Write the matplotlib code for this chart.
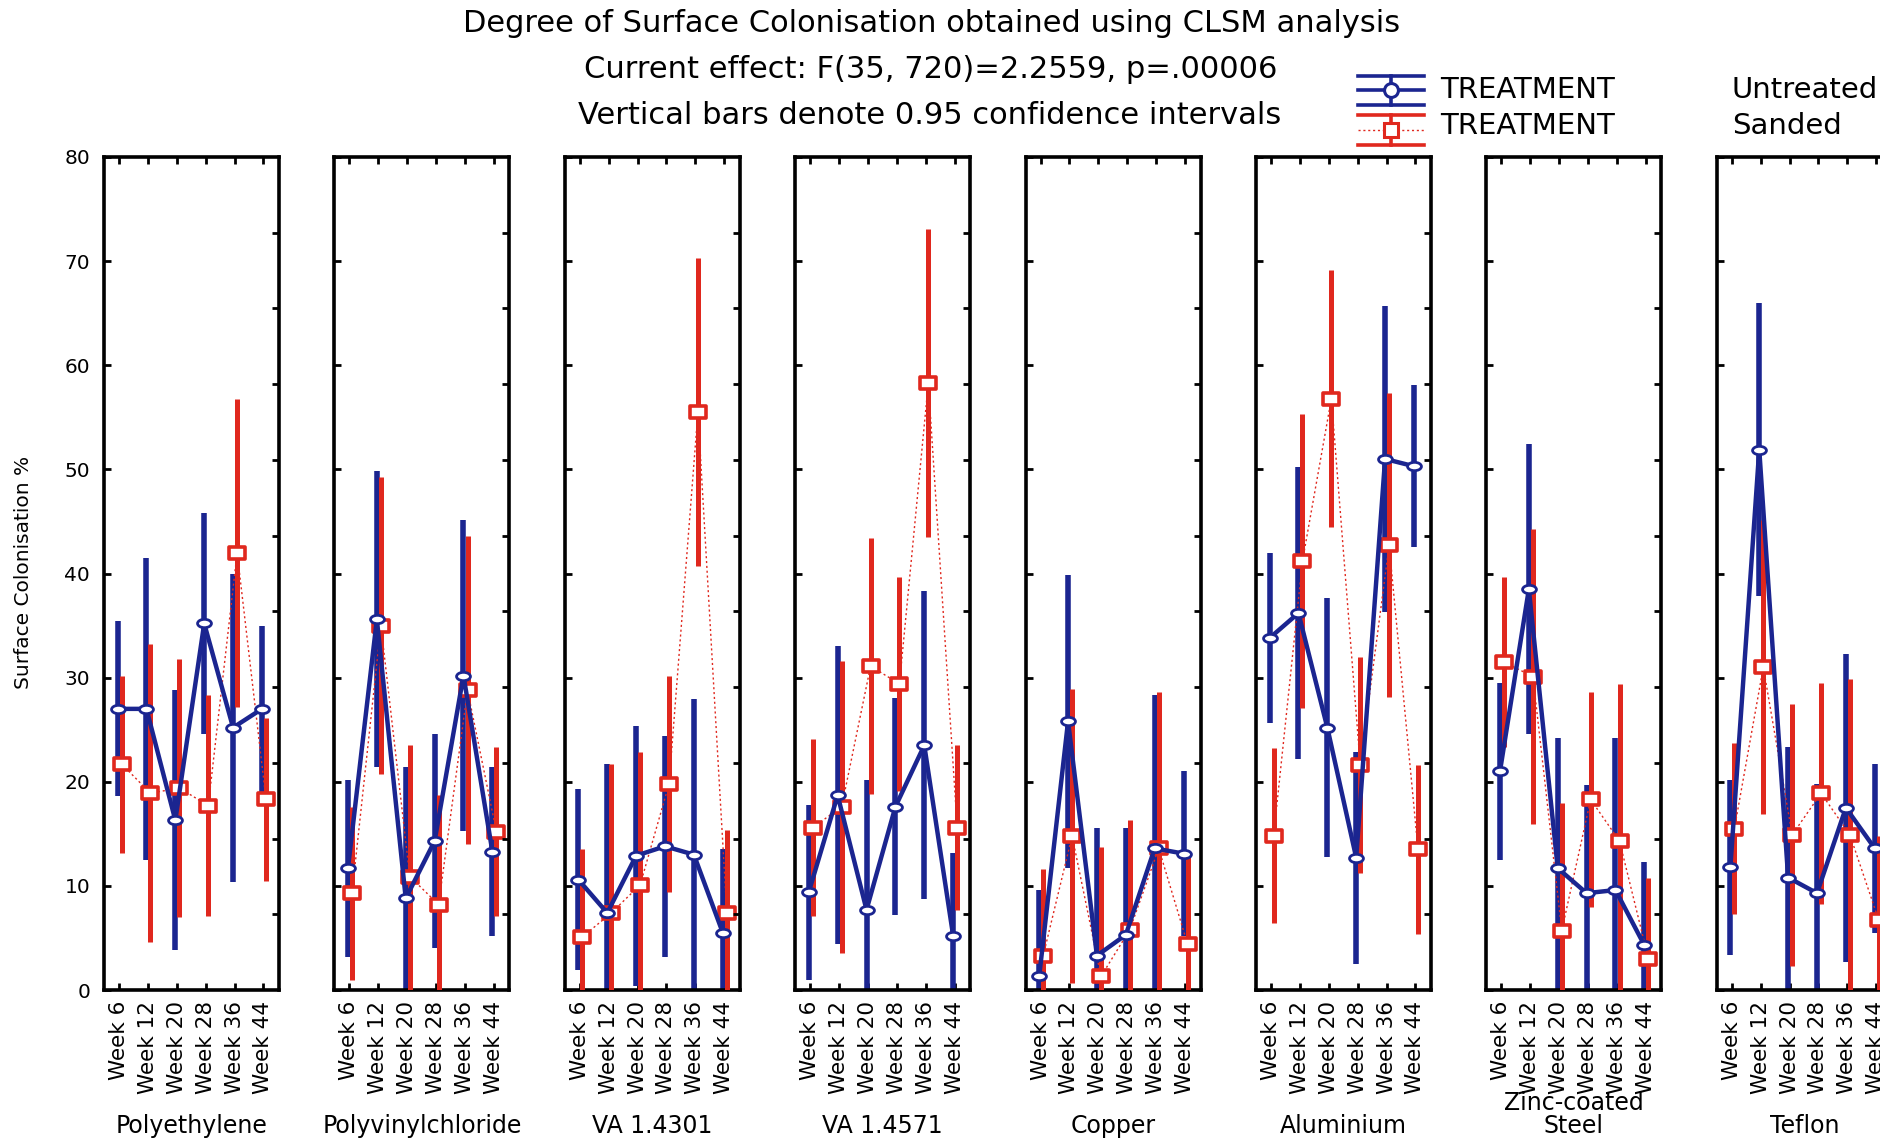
import numpy as np
import matplotlib
matplotlib.use("Agg")
import matplotlib.pyplot as plt
from matplotlib.path import Path

# data (CI = half width of 0.95 interval)
weeks = ["Week 6", "Week 12", "Week 20", "Week 28", "Week 36", "Week 44"]
materials = ["Polyethylene", "Polyvinylchloride", "VA 1.4301", "VA 1.4571",
             "Copper", "Aluminium", "Zinc-coated\nSteel", "Teflon"]

untreated_mean = [
    [27.0, 27.0, 16.3, 35.2, 25.2, 27.0],
    [11.7, 35.6, 8.8, 14.3, 30.2, 13.3],
    [10.6, 7.4, 12.9, 13.8, 13.0, 5.5],
    [9.4, 18.7, 7.7, 17.6, 23.5, 5.2],
    [1.3, 25.8, 3.3, 5.3, 13.6, 13.1],
    [33.8, 36.2, 25.2, 12.7, 51.0, 50.3],
    [21.0, 38.5, 11.7, 9.3, 9.6, 4.3],
    [11.8, 51.9, 10.8, 9.3, 17.5, 13.6],
]
untreated_ci = [
    [8.4, 14.5, 12.5, 10.6, 14.8, 8.0],
    [8.5, 14.2, 12.6, 10.3, 14.9, 8.1],
    [8.7, 14.3, 12.5, 10.6, 14.9, 8.0],
    [8.4, 14.3, 12.5, 10.4, 14.8, 8.0],
    [8.3, 14.1, 12.3, 10.3, 14.7, 7.9],
    [8.2, 14.0, 12.4, 10.2, 14.7, 7.8],
    [8.5, 13.9, 12.5, 10.4, 14.6, 8.0],
    [8.4, 14.1, 12.5, 10.5, 14.8, 8.1],
]
sanded_mean = [
    [21.7, 18.9, 19.4, 17.7, 42.0, 18.3],
    [9.3, 35.0, 10.9, 8.2, 28.8, 15.2],
    [5.1, 7.4, 10.1, 19.8, 55.5, 7.4],
    [15.6, 17.6, 31.1, 29.4, 58.3, 15.6],
    [3.3, 14.8, 1.3, 5.8, 13.6, 4.4],
    [14.8, 41.2, 56.8, 21.6, 42.7, 13.5],
    [31.5, 30.1, 5.7, 18.3, 14.3, 3.0],
    [15.5, 31.0, 14.9, 18.9, 14.9, 6.7],
]
sanded_ci = [
    [8.5, 14.3, 12.4, 10.6, 14.8, 7.8],
    [8.3, 14.3, 12.6, 10.5, 14.8, 8.1],
    [8.4, 14.3, 12.8, 10.4, 14.8, 8.0],
    [8.5, 14.0, 12.3, 10.3, 14.8, 7.9],
    [8.3, 14.1, 12.4, 10.5, 15.0, 8.5],
    [8.4, 14.1, 12.3, 10.4, 14.6, 8.1],
    [8.2, 14.2, 12.3, 10.3, 15.1, 7.8],
    [8.2, 14.1, 12.6, 10.6, 15.0, 8.1],
]

# styles
W, H = 1881, 1138
BLUE = "#1b2590"
RED = "#e0281e"

# flattened markers like the original
circ = Path.unit_circle()
oval = Path(circ.vertices * [1.0, 0.6], circ.codes)
rect = Path([(-1, -0.7), (1, -0.7), (1, 0.7), (-1, 0.7), (-1, -0.7)],
            [Path.MOVETO, Path.LINETO, Path.LINETO, Path.LINETO, Path.CLOSEPOLY])

fig = plt.figure(figsize=(W / 100, H / 100), dpi=100)

x = np.arange(len(weeks))
for i, mat in enumerate(materials):
    left = 104 + i * 230.4
    ax = fig.add_axes([left / W, 1 - 990 / H, 175 / W, 833 / H])
    xb = x - 0.05
    xr = x + 0.09
    ax.errorbar(xb, untreated_mean[i], yerr=untreated_ci[i], fmt="none",
                ecolor=BLUE, elinewidth=4.0, capsize=0, zorder=2)
    ax.errorbar(xr, sanded_mean[i], yerr=sanded_ci[i], fmt="none",
                ecolor=RED, elinewidth=3.6, capsize=0, zorder=3)
    ax.plot(xr, sanded_mean[i], color=RED, lw=1.0, ls=(0, (1.5, 2)),
            marker=rect, ms=12, mfc="white", mec=RED, mew=2.6, zorder=4)
    ax.plot(xb, untreated_mean[i], color=BLUE, lw=3.2,
            marker=oval, ms=10, mfc="white", mec=BLUE, mew=2.0, zorder=5)

    ax.set_xlim(-0.52, 5.54)
    ax.set_ylim(0, 80)
    ax.set_xticks(x)
    ax.set_xticklabels(weeks, rotation=90, fontsize=15.5)
    ax.set_yticks(np.arange(0, 81, 10))
    if i == 0:
        ax.set_yticklabels([str(v) for v in range(0, 81, 10)], fontsize=14.5)
    else:
        ax.set_yticklabels([])
    ax.tick_params(axis="both", direction="in", length=5, width=2,
                   top=True, bottom=True, left=True, right=False)
    ax.tick_params(axis="x", pad=8)
    ax.tick_params(axis="y", pad=10)
    for sp in ax.spines.values():
        sp.set_linewidth(2.6)

    # right side has its own tick spacing
    ax2 = ax.twinx()
    ax2.set_ylim(0, 80)
    ax2.set_yticks(np.linspace(0, 80, 12)[1:-1])
    ax2.set_yticklabels([])
    ax2.tick_params(axis="y", direction="in", length=5, width=2)
    for sp in ax2.spines.values():
        sp.set_visible(False)

    fig.text((left + 87.5) / W, 1 - 1133 / H, mat,
             ha="center", va="baseline", fontsize=17, linespacing=0.95)

# header
fig.text(932 / W, 1 - 24 / H, "Degree of Surface Colonisation obtained using CLSM analysis",
         ha="center", va="center", fontsize=22)
fig.text(931 / W, 1 - 70 / H, "Current effect: F(35, 720)=2.2559, p=.00006",
         ha="center", va="center", fontsize=22)
fig.text(930 / W, 1 - 115 / H, "Vertical bars denote 0.95 confidence intervals",
         ha="center", va="center", fontsize=22)

fig.text(24 / W, 1 - 572 / H, "Surface Colonisation %", rotation=90,
         ha="center", va="center", fontsize=14.5)

# legend drawn by hand
lg = fig.add_axes([1356 / W, 1 - 148 / H, 70 / W, 78 / H])
lg.set_xlim(0, 1)
lg.set_ylim(0, 1)
lg.axis("off")
for col, ys, mid_ls, mid_lw, mk in [(BLUE, (0.92, 0.74, 0.55), "-", 2.6, "o"),
                                    (RED, (0.42, 0.23, 0.04), (0, (1.5, 2)), 1.0, "s")]:
    lg.plot([0.03, 0.97], [ys[0]] * 2, color=col, lw=2.6)
    lg.plot([0.03, 0.97], [ys[2]] * 2, color=col, lw=2.6)
    lg.plot([0.03, 0.97], [ys[1]] * 2, color=col, lw=mid_lw, ls=mid_ls)
    lg.plot([0.5, 0.5], [ys[2], ys[0]], color=col, lw=2.6)
    lg.plot([0.5], [ys[1]], marker=mk, ms=10, mfc="white", mec=col, mew=2.2)

fig.text(1440 / W, 1 - 90 / H, "TREATMENT", va="center", fontsize=21)
fig.text(1440 / W, 1 - 126 / H, "TREATMENT", va="center", fontsize=21)
fig.text(1732 / W, 1 - 90 / H, "Untreated", va="center", fontsize=21)
fig.text(1732 / W, 1 - 126 / H, "Sanded", va="center", fontsize=21)

fig.savefig("out.png", dpi=100)
